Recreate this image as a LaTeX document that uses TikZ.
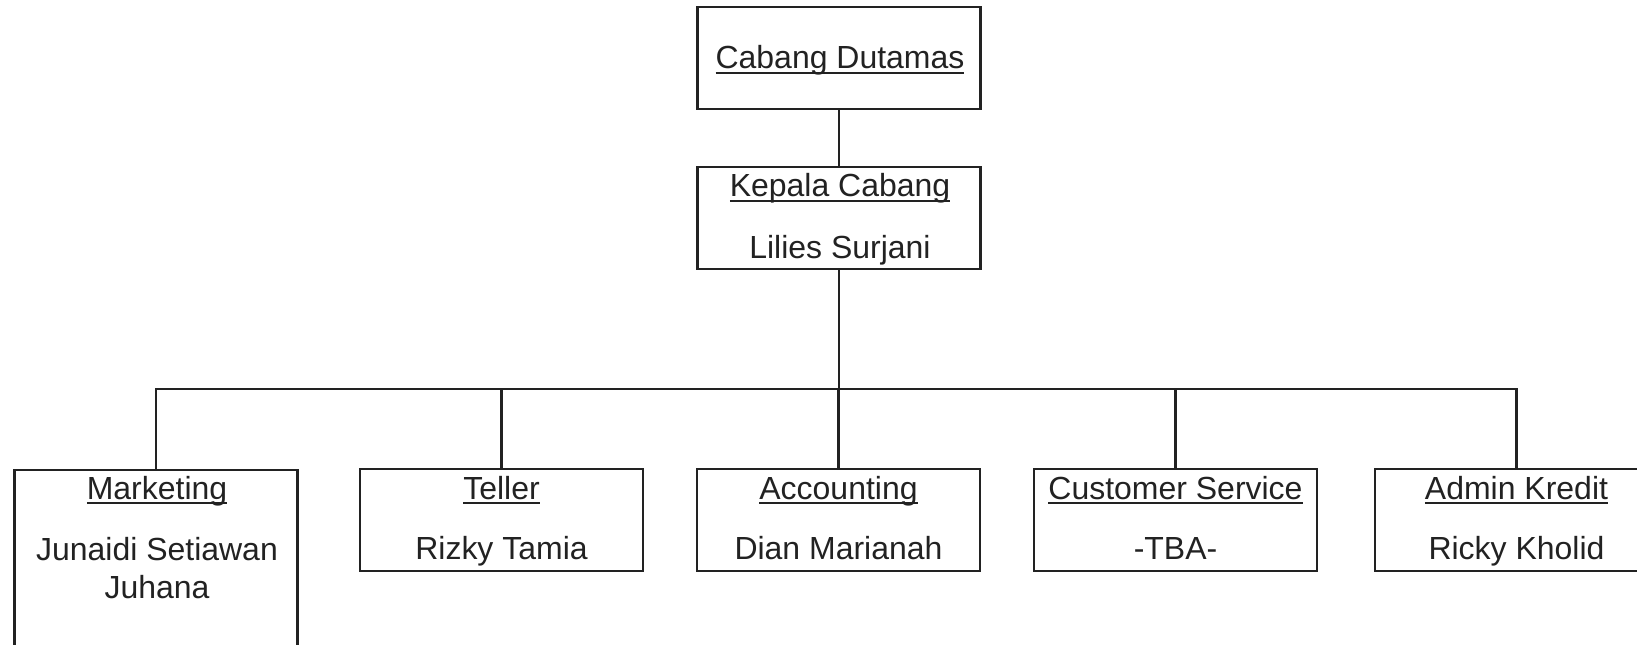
\documentclass[tikz,border=0pt]{standalone}
\usepackage{fontspec}
\setmainfont{Liberation Sans}
\usetikzlibrary{positioning}
\definecolor{ink}{HTML}{222222}
% underline that sits just under the baseline
\newcommand{\undl}[1]{\setbox0\hbox{#1}\rlap{\rule[-0.16em]{\wd0}{0.065em}}\box0}

\begin{document}
\begin{tikzpicture}[x=0.02cm, y=-0.02cm,
    box/.style={draw=ink, line width=1.35pt, minimum width=5.66cm, minimum height=2.04cm, inner sep=0pt, outer sep=0pt},
    lbl/.style={anchor=base, inner sep=0pt, text=ink, font=\fontsize{18.2}{21}\selectfont},
    conn/.style={draw=ink, line width=1.35pt}]
    \useasboundingbox (0,0) rectangle (1637,645);
    \clip (0,0) rectangle (1637,645);

    % Cabang
    \node[box] (dut) at (839,58) {};
    \node[lbl] (dut-t) at (840,69) {\undl{Cabang Dutamas}};

    % Kepala Cabang
    \node[box] (kep) at (839,218) {};
    \node[lbl] (kep-t) at (840,197) {\undl{Kepala Cabang}};
    \node[lbl] (kep-n) at (840,259) {Lilies Surjani};

    % Staff row
    \node[box, minimum height=4.6cm] (mkt) at (156,585) {};
    \node[lbl] (mkt-t) at (157,499) {\undl{Marketing}};
    \node[lbl] (mkt-n) at (157,560) {Junaidi Setiawan};
    \node[lbl] (mkt-n2) at (157,598) {Juhana};

    \node[box] (tel) at (501.5,520) {};
    \node[lbl] (tel-t) at (501.5,499) {\undl{Teller}};
    \node[lbl] (tel-n) at (501.5,559) {Rizky Tamia};

    \node[box] (acc) at (838.5,520) {};
    \node[lbl] (acc-t) at (838.5,499) {\undl{Accounting}};
    \node[lbl] (acc-n) at (838.5,559) {Dian Marianah};

    \node[box] (cs) at (1175.5,520) {};
    \node[lbl] (cs-t) at (1175.5,499) {\undl{Customer Service}};
    \node[lbl] (cs-n) at (1175.5,559) {-TBA-};

    \node[box] (adm) at (1516.5,520) {};
    \node[lbl] (adm-t) at (1516.5,499) {\undl{Admin Kredit}};
    \node[lbl] (adm-n) at (1516.5,559) {Ricky Kholid};

    % Lines
    \coordinate (bus) at (839,389);
    \draw[conn] (dut.south) -- (kep.north);
    \draw[conn] (kep.south) -- (kep.south |- bus);
    \draw[conn] (mkt.north) -- (mkt.north |- bus) -- (adm.north |- bus) -- (adm.north);
    \foreach \n in {tel,acc,cs}
        \draw[conn] (\n.north) -- (\n.north |- bus);
\end{tikzpicture}
\end{document}
